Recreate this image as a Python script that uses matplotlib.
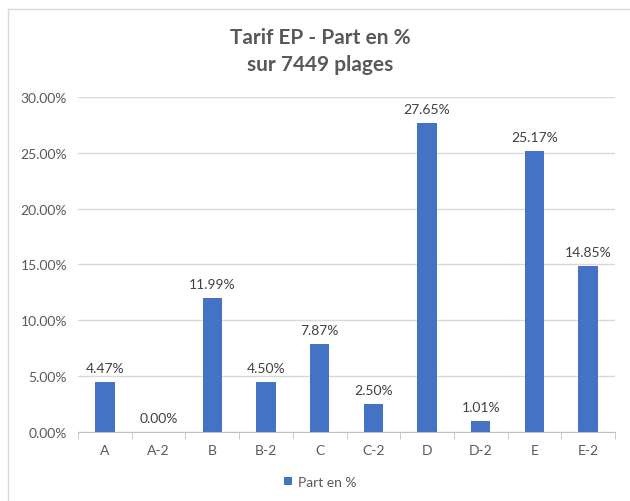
import matplotlib.pyplot as plt
from matplotlib.lines import Line2D
from matplotlib.ticker import FuncFormatter

categories = ['A', 'A-2', 'B', 'B-2', 'C', 'C-2', 'D', 'D-2', 'E', 'E-2']
part = [4.47, 0.00, 11.99, 4.50, 7.87, 2.50, 27.65, 1.01, 25.17, 14.85]
yticks = [0, 5, 10, 15, 20, 25, 30]

plt.rcParams['font.family'] = ['Lato', 'DejaVu Sans']

fig = plt.figure(figsize=(6.3, 5.02), dpi=100)
ax = fig.add_axes([0.124, 0.1375, 0.852, 0.6675])

x = range(len(categories))
bars = ax.bar(x, part, width=0.36, color='#4472C4', label='Part en %', zorder=3)
for b, v in zip(bars, part):
    ax.text(b.get_x() + b.get_width() / 2, v + 0.7, '{:.2f}%'.format(v),
            ha='center', va='bottom', fontsize=10, color='#404040')

ax.set_xlim(-0.5, len(categories) - 0.5)
ax.set_ylim(0, 30)
ax.set_yticks(yticks)
ax.yaxis.set_major_formatter(FuncFormatter(lambda v, p: '{:.2f}%'.format(v)))
ax.set_xticks(list(x))
ax.set_xticklabels(categories)
ax.set_xticks([i - 0.5 for i in range(len(categories) + 1)], minor=True)
ax.tick_params(axis='x', which='major', length=0, pad=9, labelsize=10, labelcolor='#595959')
ax.tick_params(axis='x', which='minor', length=5, color='#bfbfbf')
ax.tick_params(axis='y', length=0, pad=8, labelsize=10, labelcolor='#595959')
ax.grid(axis='y', color='#d9d9d9', linewidth=1, zorder=0)
for s in ['top', 'right', 'left']:
    ax.spines[s].set_visible(False)
ax.spines['bottom'].set_color('#bfbfbf')

fig.text(0.508, 0.925, 'Tarif EP - Part en %', ha='center', va='center',
         fontsize=15, fontweight='bold', color='#595959')
fig.text(0.508, 0.871, 'sur 7449 plages', ha='center', va='center',
         fontsize=15, fontweight='bold', color='#595959')

fig.legend(loc='center', bbox_to_anchor=(0.508, 0.038), frameon=False,
           fontsize=10, labelcolor='#595959', handlelength=0.6, handleheight=0.6,
           handletextpad=0.4)

# chart frame (left and top edges visible)
fig.add_artist(Line2D([8 / 630, 8 / 630], [0, 1 - 10 / 502], transform=fig.transFigure,
                      color='#d9d9d9', linewidth=1))
fig.add_artist(Line2D([8 / 630, 1], [1 - 10 / 502, 1 - 10 / 502], transform=fig.transFigure,
                      color='#d9d9d9', linewidth=1))

fig.savefig('out.png', dpi=100)
